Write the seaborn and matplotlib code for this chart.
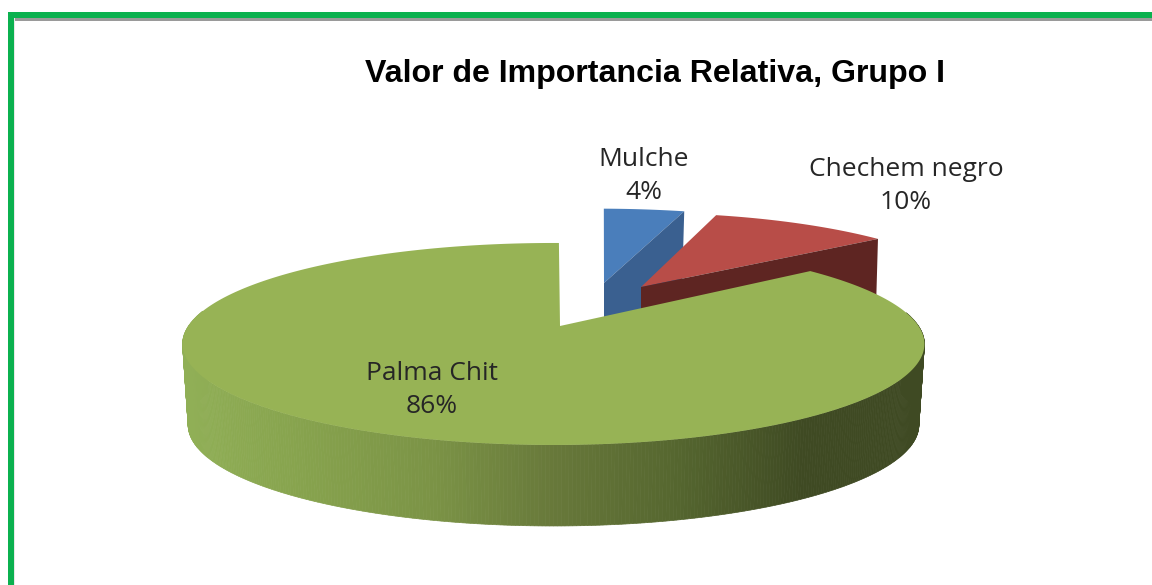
import numpy as np
import matplotlib
matplotlib.use("Agg")
import matplotlib.pyplot as plt
from matplotlib.patches import Polygon, Rectangle
import seaborn as sns

titulo = "Valor de Importancia Relativa, Grupo I"
especies = ["Mulche", "Chechem negro", "Palma Chit"]
valores = [4, 10, 86]

# perspectiva del disco superior, en pixeles
cx, cy = 553.5, 326
radio_x, radio_y = 365, 97.8
persp = 0.178
giro = 1.0
prof = 81

# desplazamiento de cada rebanada: dx, dy, escala, vertice
despl = [
    dict(dx=44.7, dy=-31, esc=1.04, vert=(604, 283)),
    dict(dx=85.7, dy=-36, esc=0.93, vert=(641, 287)),
    dict(dx=0, dy=0, esc=1.0, vert=(560, 326)),
]
col_sup = ["#4a7ebb", "#b84d48", "#97b355"]
col_lado = ["#3a6090", "#5e2522"]
grad_lado = ["#90af56", "#86a24d", "#7b9346", "#67783a", "#55662f", "#3f4a23", "#3f4a23"]
pos_texto = [(644, 176), (906, 186), (432, 390)]


def punto(ang, d, esc_x=1.0):
    t = np.radians(ang)
    u, v = np.sin(t), np.cos(t)
    w = 1 + persp * v
    x = cx + d["dx"] + d["esc"] * esc_x * radio_x * u / w
    y = cy + d["dy"] - d["esc"] * radio_y * v / w
    return x, y


sns.set_theme(style="white")
plt.rcParams['font.family'] = ['Open Sans', 'DejaVu Sans']

fig = plt.figure(figsize=(11.52, 5.85), dpi=100)
ax = fig.add_axes([0, 0, 1, 1])
ax.set_xlim(0, 1152)
ax.set_ylim(585, 0)
ax.axis("off")

# marco verde
ax.add_patch(Rectangle((14, 18), 1138, 3, color="#9a9a9a", lw=0))
ax.add_patch(Rectangle((14, 18), 1, 567, color="#e8e8e8", lw=0))
ax.add_patch(Rectangle((8, 12), 6, 573, color="#0bb14f", lw=0))
ax.add_patch(Rectangle((8, 12), 1144, 6, color="#0bb14f", lw=0))

fin = giro + np.cumsum(valores) * 3.6
ini = np.r_[giro, fin[:-1]]

# rebanadas separadas
for i in range(2):
    d = despl[i]
    angs = np.linspace(ini[i], fin[i], 40)
    arco = np.array([punto(a, d) for a in angs])
    vx, vy = d["vert"]
    ex, ey = arco[-1]
    ax.add_patch(Polygon([(vx, vy), (ex, ey), (ex - 2, ey + 70), (vx, vy + 70)],
                         color=col_lado[i], lw=0, zorder=2 + i))
    ax.add_patch(Polygon(np.vstack([[vx, vy], arco]), color=col_sup[i], lw=0, zorder=1.5 + i))

# pared de la rebanada grande, franjas con degradado
d = despl[2]
paso = 0.5
angs = np.arange(82, 279, paso)
tonos = sns.blend_palette(grad_lado, 256)
for a0 in angs:
    p0 = punto(a0, d)
    p1 = punto(a0 + paso, d)
    q0 = punto(a0, d, 0.985)
    q1 = punto(a0 + paso, d, 0.985)
    xm = (p0[0] + p1[0]) / 2
    k = int(np.clip((xm - 185) / (925 - 185), 0, 1) * 255)
    ax.add_patch(Polygon([p0, p1, (q1[0], q1[1] + prof), (q0[0], q0[1] + prof)],
                         facecolor=tonos[k], edgecolor=tonos[k], lw=0.5, zorder=5))

angs = np.linspace(ini[2], fin[2], 360)
arco = np.array([punto(a, d) for a in angs])
ax.add_patch(Polygon(np.vstack([d["vert"], arco]), color=col_sup[2], lw=0, zorder=6))

ax.text(655, 74, titulo, ha="center", va="center", fontsize=23.1, fontweight="bold",
        family="Liberation Sans", color="black", zorder=8)
for nombre, v, (tx, ty) in zip(especies, valores, pos_texto):
    ax.text(tx, ty, f"{nombre}\n{v}%", ha="center", va="center", fontsize=19,
            color="#262626", linespacing=1.38, zorder=8)

fig.savefig("out.png", dpi=100)
